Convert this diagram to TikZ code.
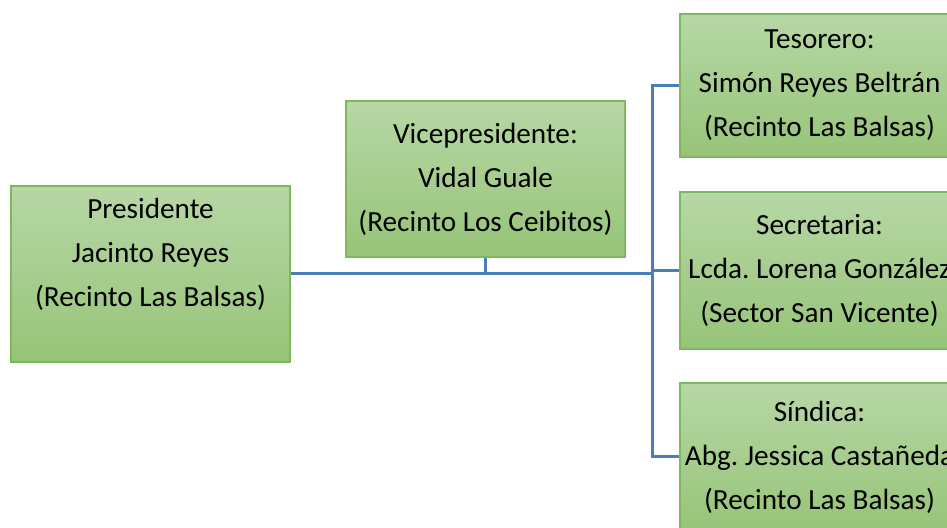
\documentclass[tikz,border=0pt]{standalone}
\usepackage{fontspec}
\setmainfont{Carlito}
\frenchspacing
\usetikzlibrary{positioning,calc}
\definecolor{cajaarriba}{HTML}{B7D7A5}
\definecolor{cajaabajo}{HTML}{96C478}
\definecolor{cajaborde}{HTML}{7EB85C}
\definecolor{linea}{HTML}{4A7EBB}
\tikzset{
  cargo/.style={rectangle, draw=cajaborde, line width=0.6pt,
    top color=cajaarriba, bottom color=cajaabajo,
    minimum width=139.5pt, align=center, inner sep=0pt,
    font=\fontsize{14.6}{22}\selectfont},
  conn/.style={draw=linea, line width=1.5pt}
}
\begin{document}
\begin{tikzpicture}[x=0.5pt,y=-0.5pt]
    \useasboundingbox (0,0) rectangle (947,528);
    \clip (0,0) rectangle (947,528);
    % cargos
    \node[cargo, minimum height=88pt] (pres) at (150.5,274)
      {Presidente\\Jacinto Reyes\\(Recinto Las Balsas)\\ ~};
    \node[cargo, minimum height=78pt] (vice) at (485.5,179)
      {Vicepresidente:\\Vidal Guale\\(Recinto Los Ceibitos)};
    \node[cargo, minimum height=71.5pt] (tes) at (819.5,85.5)
      {Tesorero:\\Simón Reyes Beltrán\\(Recinto Las Balsas)};
    \node[cargo, minimum height=78.5pt] (sec) at (819.5,270.5)
      {Secretaria:\\Lcda. Lorena González\\(Sector San Vicente)};
    \node[cargo, minimum height=74pt] (sin) at (819.5,457)
      {Síndica:\\Abg. Jessica Castañeda\\(Recinto Las Balsas)};

    % conectores
    \coordinate (trunk) at (652,274);
    \draw[conn] (pres.east) -- (trunk);
    \draw[conn] (vice.south) -- (vice.south |- trunk);
    \draw[conn] (tes.west) -| (trunk |- sin.west) -- (sin.west);
    \draw[conn] (trunk |- sec.west) -- (sec.west);
\end{tikzpicture}
\end{document}
